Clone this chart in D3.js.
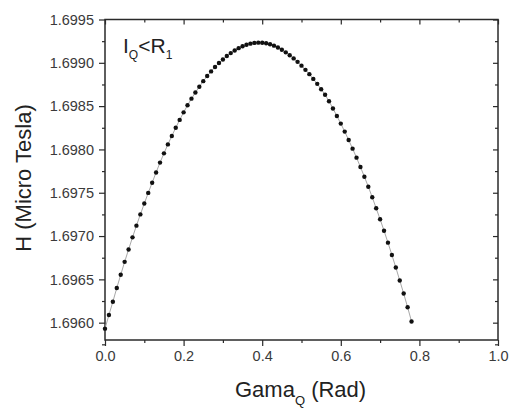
<!DOCTYPE html>
<html><head><meta charset="utf-8">
<script src="https://cdn.jsdelivr.net/npm/d3@7"></script>
<style>html,body{margin:0;padding:0;background:#fff;}svg{display:block;font-family:Arial,"Liberation Sans",sans-serif;}</style>
</head><body>
<script>
// Data
const gama = [0.00,0.01,0.02,0.03,0.04,0.05,0.06,0.07,0.08,0.09,0.10,0.11,0.12,0.13,0.14,0.15,0.16,0.17,0.18,0.19,
  0.20,0.21,0.22,0.23,0.24,0.25,0.26,0.27,0.28,0.29,0.30,0.31,0.32,0.33,0.34,0.35,0.36,0.37,0.38,0.39,
  0.40,0.41,0.42,0.43,0.44,0.45,0.46,0.47,0.48,0.49,0.50,0.51,0.52,0.53,0.54,0.55,0.56,0.57,0.58,0.59,
  0.60,0.61,0.62,0.63,0.64,0.65,0.66,0.67,0.68,0.69,0.70,0.71,0.72,0.73,0.74,0.75,0.76,0.77,0.78];
const hField = [1.695931,1.696089,1.696242,1.696401,1.696553,1.696702,1.696845,1.696985,1.697120,1.697250,
  1.697376,1.697498,1.697616,1.697734,1.697848,1.697955,1.698058,1.698155,1.698250,1.698341,
  1.698428,1.698510,1.698586,1.698657,1.698724,1.698788,1.698847,1.698901,1.698952,1.698998,
  1.699039,1.699078,1.699112,1.699142,1.699169,1.699191,1.699208,1.699221,1.699230,1.699233,
  1.699232,1.699225,1.699214,1.699198,1.699177,1.699151,1.699121,1.699088,1.699051,1.699011,
  1.698967,1.698919,1.698869,1.698814,1.698757,1.698695,1.698631,1.698557,1.698473,1.698386,
  1.698298,1.698206,1.698109,1.698009,1.697905,1.697797,1.697685,1.697570,1.697448,1.697321,
  1.697194,1.697062,1.696924,1.696782,1.696637,1.696487,1.696336,1.696178,1.696014];
const xTicks = [0.0,0.2,0.4,0.6,0.8,1.0];
const xMinorTicks = [0.1,0.3,0.5,0.7,0.9];
const yTicks = [1.6960,1.6965,1.6970,1.6975,1.6980,1.6985,1.6990,1.6995];
const yMinorTicks = [1.69575,1.69625,1.69675,1.69725,1.69775,1.69825,1.69875,1.69925];
const xDomain = [0,1.0];
const yDomain = [1.6958,1.6995];

const W = 511, H = 409;
const m = {left:105, right:13, top:19.5, bottom:69};
const svg = d3.select("body").append("svg").attr("width",W).attr("height",H);

const x = d3.scaleLinear().domain(xDomain).range([m.left, W-m.right]);
const y = d3.scaleLinear().domain(yDomain).range([H-m.bottom, m.top]);
const axisCol = "#2a2a2a", textCol = "#3a3a3a";

// frame
svg.append("rect").attr("x",x(0)).attr("y",y(yDomain[1]))
  .attr("width",x(1)-x(0)).attr("height",y(yDomain[0])-y(yDomain[1]))
  .attr("fill","none").attr("stroke",axisCol).attr("stroke-width",1.5);

function styleAxis(g){ g.select(".domain").remove(); g.selectAll("line").attr("stroke",axisCol).attr("stroke-width",1.2);
  g.selectAll("text").attr("fill",textCol).attr("font-size","14.5px").attr("font-family","Arial, 'Liberation Sans', sans-serif"); }

// bottom
svg.append("g").attr("transform",`translate(0,${y(yDomain[0])})`)
  .call(d3.axisBottom(x).tickValues(xTicks).tickFormat(d3.format(".1f")).tickSize(6).tickPadding(5)).call(styleAxis);
svg.append("g").attr("transform",`translate(0,${y(yDomain[0])})`)
  .call(d3.axisBottom(x).tickValues(xMinorTicks).tickFormat("").tickSize(3)).call(styleAxis);
// top (inward)
svg.append("g").attr("transform",`translate(0,${y(yDomain[1])})`)
  .call(d3.axisBottom(x).tickValues(xTicks).tickFormat("").tickSize(5)).call(styleAxis);
svg.append("g").attr("transform",`translate(0,${y(yDomain[1])})`)
  .call(d3.axisBottom(x).tickValues(xMinorTicks).tickFormat("").tickSize(3)).call(styleAxis);
// left
svg.append("g").attr("transform",`translate(${x(0)},0)`)
  .call(d3.axisLeft(y).tickValues(yTicks).tickFormat(d3.format(".4f")).tickSize(6).tickPadding(5)).call(styleAxis);
svg.append("g").attr("transform",`translate(${x(0)},0)`)
  .call(d3.axisLeft(y).tickValues(yMinorTicks).tickFormat("").tickSize(3)).call(styleAxis);
// right (inward)
svg.append("g").attr("transform",`translate(${x(1)},0)`)
  .call(d3.axisLeft(y).tickValues(yTicks).tickFormat("").tickSize(5)).call(styleAxis);
svg.append("g").attr("transform",`translate(${x(1)},0)`)
  .call(d3.axisLeft(y).tickValues(yMinorTicks).tickFormat("").tickSize(3)).call(styleAxis);

// data
const pts = gama.map((g,i)=>[g,hField[i]]);
svg.append("path").datum(pts)
  .attr("d", d3.line().x(d=>x(d[0])).y(d=>y(d[1])))
  .attr("fill","none").attr("stroke","#a8a8a8").attr("stroke-width",1);
svg.append("g").selectAll("circle").data(pts).join("circle")
  .attr("cx",d=>x(d[0])).attr("cy",d=>y(d[1])).attr("r",2.2).attr("fill","#111");

// axis titles
const xt = svg.append("text").attr("x",235).attr("y",397).attr("fill","#222")
  .attr("font-size","22px");
xt.append("tspan").text("Gama");
xt.append("tspan").attr("font-size","13px").attr("dy",8).text("Q");
xt.append("tspan").attr("dy",-8).text(" (Rad)");

svg.append("text").attr("transform","translate(31,178) rotate(-90)")
  .attr("text-anchor","middle").attr("fill","#222").attr("font-size","22px")
  .text("H (Micro Tesla)");

// annotation
const ann = svg.append("text").attr("x",123).attr("y",53).attr("fill","#222").attr("font-size","21px");
ann.append("tspan").text("I");
ann.append("tspan").attr("font-size","12px").attr("dy",6).text("Q");
ann.append("tspan").attr("dy",-6).text("<R");
ann.append("tspan").attr("font-size","12px").attr("dy",6).text("1");
</script>
</body></html>
